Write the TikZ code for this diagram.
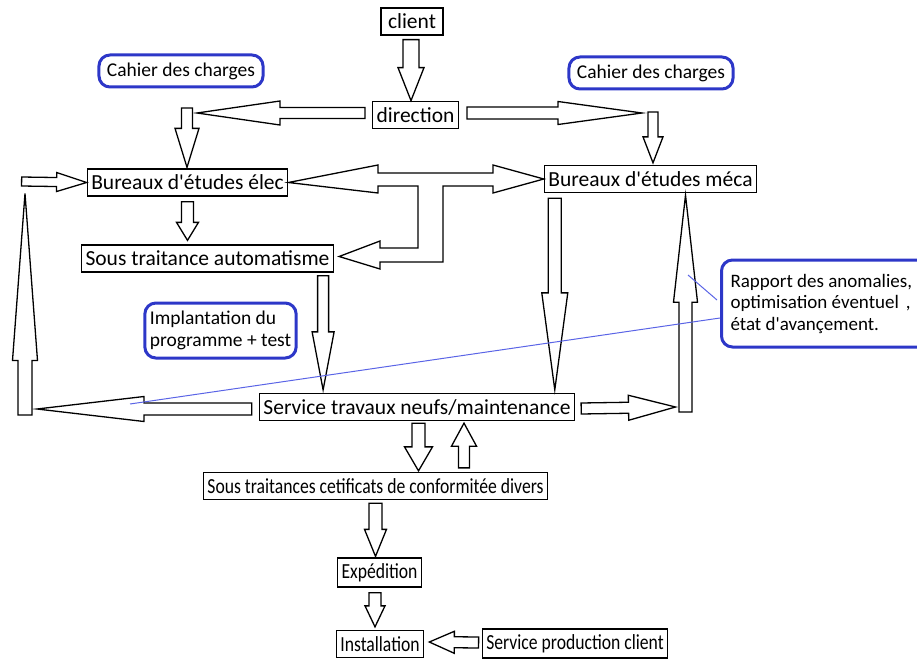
\documentclass[tikz,border=0pt]{standalone}
\usepackage{fontspec}
\newfontfamily\diagfont{Carlito}
\usepackage{graphicx}
\usepackage{tikz}
\usetikzlibrary{calc}

\definecolor{noteblue}{RGB}{45,55,200}
\definecolor{linkblue}{RGB}{90,100,230}

\tikzset{
  box/.style={draw, line width=1.3pt, inner xsep=4pt, inner ysep=2pt, minimum height=27pt,
    font=\diagfont\fontsize{21.5}{24}\selectfont},
  note/.style={draw=noteblue, line width=3pt, rounded corners=11pt, inner xsep=8pt, align=left,
    font=\diagfont\fontsize{19.5}{22}\selectfont},
  fat/.style={draw, line width=1.3pt, fill=white},
  notelink/.style={linkblue, line width=1pt}
}

% narrow text as in the lower boxes
\newcommand{\narrow}[1]{\scalebox{0.82}[1]{#1}}

% hollow block arrow: start, tip, shaft half width, head half width, head length
\newcommand{\fatarrow}[5]{%
  \coordinate (fa-s) at #1;
  \coordinate (fa-e) at #2;
  \coordinate (fa-c) at ($(fa-e)!#5pt!(fa-s)$);
  \draw[fat] ($(fa-s)!#3pt!90:(fa-e)$) -- ($(fa-c)!#3pt!-90:(fa-s)$) -- ($(fa-c)!#4pt!-90:(fa-s)$)
    -- (fa-e) -- ($(fa-c)!#4pt!90:(fa-s)$) -- ($(fa-c)!#3pt!90:(fa-s)$) -- ($(fa-s)!#3pt!-90:(fa-e)$) -- cycle;}

\begin{document}
\begin{tikzpicture}[x=1pt,y=-1pt]
\clip (0,0) rectangle (917,658);

\node[box, inner xsep=7pt] (client) at (412,21.5) {client};
\node[box] (direction) at (415.5,115) {direction};
\node[box] (elec) at (187.5,182.5) {Bureaux d'études élec};
\node[box] (meca) at (650.5,179) {Bureaux d'études méca};
\node[box] (auto) at (207.5,258.5) {Sous traitance automatisme};
\node[box] (service) at (417,407) {Service travaux neufs/maintenance};
\node[box] (cert) at (375.5,486) {\narrow{Sous traitances cetificats de conformitée divers}};
\node[box, minimum height=29pt] (exped) at (379.5,572.5) {\narrow{Expédition}};
\node[box] (install) at (380,644) {\narrow{Installation}};
\node[box, minimum height=29pt] (prodcl) at (575,643.5) {\narrow{Service production client}};

\node[note, minimum height=32pt] (cahierL) at (181,71) {Cahier des charges};
\node[note, minimum height=32pt] (cahierR) at (651,73) {Cahier des charges};
\node[note, inner xsep=5pt, minimum height=55pt] (implant) at (220.5,330.5) {Implantation du\\programme + test};
\node[note, anchor=west, inner xsep=9pt, minimum height=87pt, text width=205pt, align=flush left,
  font=\diagfont\fontsize{19}{21.5}\selectfont] (rapport) at (720,303.5)
  {Rapport des anomalies,\\optimisation éventuel\hspace{7pt},\\état d'avançement.};

% client -> direction
\fatarrow{($(client.south)+(-1,4)$)}{($(client.south)+(-1,65)$)}{8}{13}{33}

% direction -> bureaux
\coordinate (bendL) at (187,108);
\coordinate (bendR) at (653,112);
\fatarrow{($(direction.west)+(-7,-2)$)}{($(bendL)+(10,5)$)}{5.5}{12}{83}
\fatarrow{(bendL)}{($(bendL|-elec.north)+(0,-1)$)}{5.5}{12}{39}
\fatarrow{($(direction.east)+(8,-2)$)}{($(bendR)+(-11,1)$)}{6}{11.5}{84}
\fatarrow{(bendR)}{($(bendR|-meca.north)+(0,-2)$)}{5}{10}{26}

% elec -> automatisme
\fatarrow{($(elec.south)+(0,5)$)}{($(elec.south|-auto.north)+(0,-4)$)}{6}{11}{18}

% elec <-> meca, -> automatisme
\draw[fat] (elec.east) -- (378,165) -- (378,173) -- (493,173) -- (493,165) -- (meca.west)
  -- (493,193) -- (493,186) -- (443,186) -- (443,262) -- (380,262) -- (380,269)
  -- ($(auto.east)+(5,-2)$) -- (380,241) -- (380,248) -- (418,248) -- (418,186)
  -- (378,186) -- (378,193) -- cycle;

% automatisme / meca -> service
\coordinate (a6) at ($(auto.south east)+(-11,3)$);
\fatarrow{(a6)}{($(a6|-service.north)+(0,-3)$)}{5.5}{11}{58}
\coordinate (a7) at ($(meca.south west)+(11,5)$);
\fatarrow{(a7)}{($(a7|-service.north)+(0,-3)$)}{6.5}{13}{97}

% retours vers les bureaux
\coordinate (rloop) at (685.5,412);
\coordinate (lloop) at (25,415);
\fatarrow{($(service.east)+(6,1.5)$)}{($(rloop)+(-10,-5)$)}{5.5}{12.5}{47}
\fatarrow{(rloop)}{($(rloop|-meca.south)+(0,2)$)}{6.5}{12}{107}
\fatarrow{($(service.west)+(-7,2)$)}{($(lloop)+(12,-6)$)}{6}{12.5}{107}
\fatarrow{(lloop)}{($(lloop|-elec.west)+(0,11)$)}{7}{12.5}{167}
\fatarrow{($(elec.west)+(-65,-1)$)}{(elec.west)}{4.5}{9.5}{30}

% service <-> certificats
\coordinate (a13) at ($(service.south)+(1.5,2)$);
\fatarrow{(a13)}{($(a13|-cert.north)+(0,-1)$)}{6.5}{14}{24}
\coordinate (a14) at ($(cert.north)+(88.5,-4)$);
\fatarrow{(a14)}{($(a14|-service.south)+(0,2)$)}{5.5}{12.5}{23}

% certificats -> expedition -> installation
\fatarrow{($(cert.south)+(0,3)$)}{($(cert.south|-exped.north)+(0,-1)$)}{6.5}{11}{27}
\coordinate (a16) at ($(exped.south)+(-4.5,5)$);
\fatarrow{(a16)}{($(a16|-install.north)+(0,-3)$)}{6}{10}{21}
\fatarrow{($(prodcl.west)+(-3,-1)$)}{($(install.east)+(5,-2)$)}{5.5}{11}{25}

% renvois de la note
\coordinate (note1) at (130,404);
\coordinate (note2) at (688,275);
\draw[notelink] ($(rapport.west)+(0,14.5)$) -- (note1);
\draw[notelink] ($(rapport.west)+(-3,-3.5)$) -- (note2);
\end{tikzpicture}
\end{document}
